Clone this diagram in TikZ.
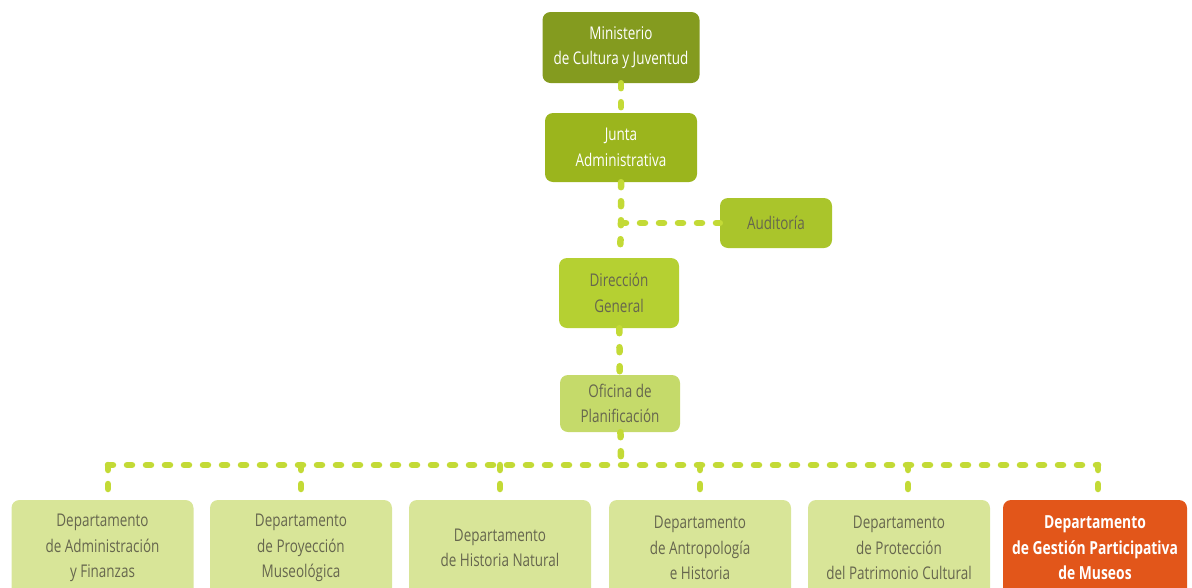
\documentclass[tikz,border=0pt]{standalone}
\usepackage{fontspec}
\setmainfont{Open Sans}[FakeStretch=0.77]
\definecolor{cMin}{HTML}{849B1F}
\definecolor{cJun}{HTML}{9BB51D}
\definecolor{cAud}{HTML}{AAC52B}
\definecolor{cDir}{HTML}{B5D032}
\definecolor{cOfi}{HTML}{C5DA6A}
\definecolor{cDep}{HTML}{D8E598}
\definecolor{cOra}{HTML}{E2561A}
\definecolor{cDash}{HTML}{C3DA36}
\definecolor{cTxt}{HTML}{66664E}
\begin{document}
\begin{tikzpicture}[x=1pt,y=-1pt,
  box/.style={rectangle, rounded corners=8pt, align=center, inner sep=0pt,
    font=\fontsize{17.5}{25.5}\selectfont, text=cTxt},
  dep/.style={box, fill=cDep, minimum width=182pt, minimum height=96pt},
  link/.style={draw=cDash, line width=6.5pt, line cap=round, dash pattern=on 5pt off 14pt}]
\useasboundingbox (0,0) rectangle (1192,587);
% nodes
\node[box, fill=cMin, text=white, minimum width=157pt, minimum height=71pt] (min) at (621,47.5) {Ministerio\\de Cultura y Juventud};
\node[box, fill=cJun, text=white, minimum width=152pt, minimum height=69pt] (jun) at (621,147.5) {Junta\\Administrativa};
\node[box, fill=cAud, minimum width=112pt, minimum height=50pt] (aud) at (776,223) {Auditoría};
\node[box, fill=cDir, minimum width=120pt, minimum height=70pt] (dir) at (619,293) {Dirección\\General};
\node[box, fill=cOfi, minimum width=120pt, minimum height=57pt] (ofi) at (620,403.5) {Oficina de\\Planificación};
\node[dep] (d1) at (102.5,548) {Departamento\\de Administración\\y Finanzas};
\node[dep] (d2) at (301,548) {Departamento\\de Proyección\\Museológica};
\node[dep] (d3) at (500,548) {Departamento\\de Historia Natural};
\node[dep] (d4) at (700,548) {Departamento\\de Antropología\\e Historia};
\node[dep] (d5) at (899,548) {Departamento\\de Protección\\del Patrimonio Cultural};
\node[dep, fill=cOra, text=white, font=\fontsize{18}{25.5}\selectfont\bfseries, minimum width=184pt] (d6) at (1095,548) {Departamento\\de Gestión Participativa\\de Museos};
% connectors
\coordinate (ja) at (621,223);
\coordinate (bus) at (621,465);
\coordinate (t1) at (108,465);
\coordinate (t2) at (301,465);
\coordinate (t3) at (500,465);
\coordinate (t4) at (700,465);
\coordinate (t5) at (908,465);
\coordinate (t6) at (1098,465);
\path[link] (min) -- (jun);
\path[link] (jun) -- (ja) -- (dir);
\path[link] (ja) -- (aud);
\path[link] (dir) -- (ofi);
\path[link] (ofi) -- (bus);
\path[link] (t1) -- (t6);
\path[link] (t1) -- (t1 |- d1.north);
\path[link] (t2) -- (t2 |- d2.north);
\path[link] (t3) -- (t3 |- d3.north);
\path[link] (t4) -- (t4 |- d4.north);
\path[link] (t5) -- (t5 |- d5.north);
\path[link] (t6) -- (t6 |- d6.north);
\end{tikzpicture}
\end{document}
